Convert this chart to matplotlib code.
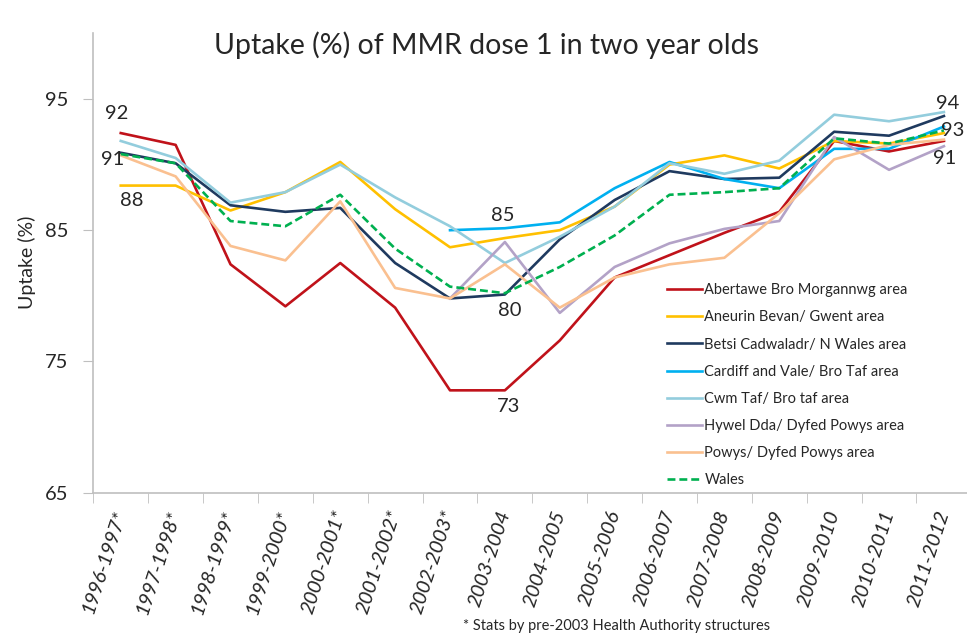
import matplotlib
matplotlib.use("Agg")
import matplotlib.pyplot as plt
import numpy as np

plt.rcParams['font.family'] = ['Lato', 'DejaVu Sans']

# school years (x axis)
years = ['1996-1997*', '1997-1998*', '1998-1999*', '1999-2000*', '2000-2001*',
         '2001-2002*', '2002-2003*', '2003-2004', '2004-2005', '2005-2006',
         '2006-2007', '2007-2008', '2008-2009', '2009-2010', '2010-2011', '2011-2012']

nan = np.nan
abertawe = [92.4, 91.5, 82.4, 79.2, 82.5, 79.1, 72.8, 72.8, 76.6, 81.4, 83.1, 84.8, 86.4, 91.8, 91.0, 91.8]
aneurin = [88.4, 88.4, 86.5, 87.9, 90.2, 86.6, 83.7, 84.4, 85.0, 86.8, 90.0, 90.7, 89.7, 91.8, 91.6, 92.4]
betsi = [90.9, 90.1, 86.9, 86.4, 86.7, 82.5, 79.8, 80.1, 84.3, 87.3, 89.5, 88.9, 89.0, 92.5, 92.2, 93.7]
cardiff = [nan, nan, nan, nan, nan, nan, 85.0, 85.15, 85.6, 88.2, 90.2, 88.9, 88.2, 91.2, 91.2, 92.9]
cwm_taf = [91.8, 90.5, 87.1, 87.9, 90.0, 87.5, 85.3, 82.5, 84.5, 86.8, 90.1, 89.3, 90.3, 93.8, 93.3, 94.0]
hywel = [nan, nan, nan, nan, nan, nan, 79.8, 84.1, 78.7, 82.2, 84.0, 85.1, 85.7, 92.1, 89.6, 91.4]
powys = [90.7, 89.1, 83.8, 82.7, 87.2, 80.6, 79.8, 82.4, 79.1, 81.4, 82.4, 82.9, 86.3, 90.4, 91.5, 91.9]
wales = [90.8, 90.1, 85.7, 85.3, 87.7, 83.6, 80.7, 80.2, 82.2, 84.6, 87.7, 87.9, 88.2, 92.0, 91.6, 92.6]

series = [
    ('Abertawe Bro Morgannwg area', abertawe, '#C0121A', '-'),
    ('Aneurin Bevan/ Gwent area', aneurin, '#FFC000', '-'),
    ('Betsi Cadwaladr/ N Wales area', betsi, '#1F3A5F', '-'),
    ('Cardiff and Vale/ Bro Taf area', cardiff, '#00B0F0', '-'),
    ('Cwm Taf/ Bro taf area', cwm_taf, '#93CDDD', '-'),
    ('Hywel Dda/ Dyfed Powys area', hywel, '#B3A2C7', '-'),
    ('Powys/ Dyfed Powys area', powys, '#FAC090', '-'),
    ('Wales', wales, '#00B050', (0, (3, 1.5))),
]

fig = plt.figure(figsize=(9.67, 6.37), dpi=100)
ax = fig.add_axes([0.0965, 0.2265, 0.908, 0.7212])

x = np.arange(len(years))
for name, vals, col, ls in series:
    ax.plot(x, vals, color=col, lw=1.9, ls=ls, label=name)

ax.set_xlim(-0.5, len(years) - 0.5)
ax.set_ylim(65, 100)
ax.set_yticks([65, 75, 85, 95])
ax.set_xticks(x)
ax.set_xticklabels(years, rotation=72, ha='right', va='center',
                   rotation_mode='anchor', style='italic', fontsize=14.5)
ax.set_xticks(np.arange(-0.5, len(years)), minor=True)
ax.tick_params(axis='x', which='major', length=0, pad=13, colors='#262626')
ax.tick_params(axis='x', which='minor', length=7, color='#BFBFBF')
ax.tick_params(axis='y', length=7, color='#BFBFBF', pad=11, labelsize=14.5, labelcolor='#262626')
for s in ['top', 'right']:
    ax.spines[s].set_visible(False)
for s in ['left', 'bottom']:
    ax.spines[s].set_color('#BFBFBF')
    ax.spines[s].set_linewidth(1.2)

# data labels (series, index, offset in pixels)
labels = [(abertawe, 0, -4, 20), (betsi, 0, -8, -7), (aneurin, 0, 11, -15),
          (cardiff, 7, -2, 13), (betsi, 7, 5, -16), (abertawe, 7, 4, -16),
          (cwm_taf, 15, 4, 9), (cardiff, 15, 9, -4), (hywel, 15, 1, -12)]
for vals, i, dx, dy in labels:
    ax.annotate(f"{vals[i]:.0f}", xy=(i, vals[i]), xytext=(dx, dy),
                textcoords='offset pixels', ha='center', va='center',
                fontsize=14.5, color='#262626', annotation_clip=False)

fig.text(0.503, 1 - 45 / 637, 'Uptake (%) of MMR dose 1 in two year olds',
         ha='center', va='center', fontsize=20.5, color='#262626')
fig.text(27 / 967, 1 - 262 / 637, 'Uptake (%)', rotation=90,
         ha='center', va='center', fontsize=14, color='#262626')
fig.text(463 / 967, 1 - 626 / 637, '* Stats by pre-2003 Health Authority structures',
         ha='left', va='center', fontsize=10.5, color='#262626')

ax.legend(loc='upper left', bbox_to_anchor=(660 / 967, 1 - 276 / 637),
          bbox_transform=fig.transFigure, frameon=False, fontsize=10.5,
          handlelength=2.4, handletextpad=0.15, labelspacing=0.9, borderpad=0,
          labelcolor='#262626')

fig.savefig('out.png', dpi=100)
